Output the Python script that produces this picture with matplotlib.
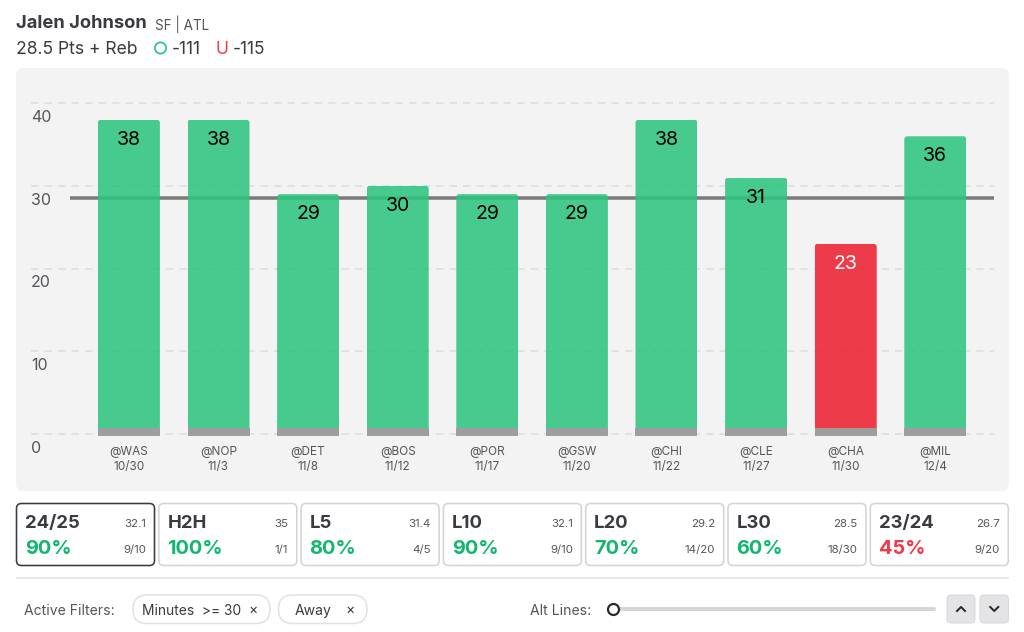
"""Player prop card: last ten games against the line, plus the split cards and filters."""

import matplotlib

matplotlib.use("Agg")
import matplotlib.pyplot as plt
from matplotlib.patches import Circle, FancyBboxPatch
from matplotlib.transforms import ScaledTranslation

plt.rcParams.update({"font.family": ["Inter", "Liberation Sans", "DejaVu Sans"]})

PLAYER = "Jalen Johnson"
TEAMS = "SF | ATL"
PROP = "28.5 Pts + Reb"
OVER_ODDS = "-111"
UNDER_ODDS = "-115"

OPPONENTS = ["@WAS", "@NOP", "@DET", "@BOS", "@POR", "@GSW", "@CHI", "@CLE", "@CHA", "@MIL"]
DATES = ["10/30", "11/3", "11/8", "11/12", "11/17", "11/20", "11/22", "11/27", "11/30", "12/4"]
VALUES = [38, 38, 29, 30, 29, 29, 38, 31, 23, 36]
LINE = 28.5
Y_TICKS = [0, 10, 20, 30, 40]

CARD_NAMES = ["24/25", "H2H", "L5", "L10", "L20", "L30", "23/24"]
CARD_AVGS = ["32.1", "35", "31.4", "32.1", "29.2", "28.5", "26.7"]
CARD_PCTS = [90, 100, 80, 90, 70, 60, 45]
CARD_COUNTS = ["9/10", "1/1", "4/5", "9/10", "14/20", "18/30", "9/20"]

GREEN = "#2EC57E"
RED = "#EE2031"
TEXT_GREEN = "#12B76F"
TEXT_RED = "#F03A47"
DARK = "#3A3A40"
MID = "#55555B"


def px(n):
    """Pixels to points at dpi 100."""
    return n * 0.72


def round_box(ui, x0, y0, x1, y1, r, **kw):
    ui.add_patch(FancyBboxPatch((x0 + r, y0 + r), x1 - x0 - 2 * r, y1 - y0 - 2 * r,
                                boxstyle=f"round,pad={r},rounding_size={r}", **kw))


def draw_header(ui):
    ui.text(16, 24, PLAYER, fontsize=px(18.3), fontweight="bold", color=DARK, va="center")
    ui.text(155, 24.5, TEAMS, fontsize=px(13.5), color=MID, va="center")
    ui.text(16, 49.5, PROP, fontsize=px(17.5), color=DARK, va="center")
    ui.add_patch(Circle((160.5, 48), 5.6, fc="none", ec="#2CC98A", lw=px(1.8)))
    ui.text(172, 49.5, OVER_ODDS, fontsize=px(17.2), color=DARK, va="center")
    ui.text(222, 49.5, "U", fontsize=px(17.5), color=TEXT_RED, va="center", ha="center")
    ui.text(233, 49.5, UNDER_ODDS, fontsize=px(17.2), color=DARK, va="center")


def draw_cards(ui):
    for i, name in enumerate(CARD_NAMES):
        x0 = 16.5 + i * 142.3
        x1 = x0 + 138
        selected = i == 0
        round_box(ui, x0, 503.5, x1, 565.5, 5, fc="white",
                  ec=DARK if selected else "#D4D4D4", lw=px(1.6))
        pct_color = TEXT_GREEN if CARD_PCTS[i] >= 50 else TEXT_RED
        ui.text(x0 + 8.5, 523.5, name, fontsize=px(18.5), fontweight="bold", color=DARK, va="center")
        ui.text(x1 - 8.5, 524, CARD_AVGS[i], fontsize=px(11.5), color=MID, va="center", ha="right")
        ui.text(x0 + 8.5, 549, f"{CARD_PCTS[i]}%", fontsize=px(20), fontweight="bold",
                color=pct_color, va="center")
        ui.text(x1 - 8.5, 550, CARD_COUNTS[i], fontsize=px(11.5), color=MID, va="center", ha="right")


def draw_filters(ui):
    ui.plot([16, 1008.5], [578, 578], color="#E4E4E4", lw=px(1.5), solid_capstyle="butt")
    ui.text(24, 611, "Active Filters:", fontsize=px(14), color=MID, va="center")
    round_box(ui, 133, 595, 270, 623.5, 14, fc="white", ec="#E2E2E2", lw=px(1.6))
    ui.text(142, 611, "Minutes  >= 30", fontsize=px(13.8), color=DARK, va="center")
    ui.text(253, 609.5, "×", fontsize=px(14), color=DARK, va="center", ha="center")
    round_box(ui, 278.5, 595, 367, 623.5, 14, fc="white", ec="#E2E2E2", lw=px(1.6))
    ui.text(295, 611, "Away", fontsize=px(14), color=DARK, va="center")
    ui.text(350, 609.5, "×", fontsize=px(14), color=DARK, va="center", ha="center")

    ui.text(530, 611, "Alt Lines:", fontsize=px(14), color=MID, va="center")
    round_box(ui, 607, 607, 936, 611, 2, fc="#D6D6D6", ec="none")
    ui.add_patch(Circle((613.5, 609.5), 5.5, fc="white", ec="#2A2A2E", lw=px(2.2), zorder=3))
    for x0, x1, tip in [(947, 975, -1), (980, 1008.5, 1)]:
        round_box(ui, x0, 595, x1, 623, 4, fc="#E4E4E6", ec="#D8D8DA", lw=px(1))
        cx = (x0 + x1) / 2
        ui.plot([cx - 4, cx, cx + 4], [609 - 2 * tip, 609 + 2 * tip, 609 - 2 * tip],
                color="#2A2A2E", lw=px(2))


def draw_chart(fig):
    x_unit = 89.6
    y_unit = 8.27
    first_x = 128.9
    left, right = 31, 994
    top, bottom = 90, 445
    ax = fig.add_axes([left / 1024, 1 - bottom / 632, (right - left) / 1024, (bottom - top) / 632])
    ax.patch.set_visible(False)
    ax.set_xlim((left - first_x) / x_unit, (right - first_x) / x_unit)
    ax.set_ylim((434 - bottom) / y_unit, (434 - top) / y_unit)
    for spine in ax.spines.values():
        spine.set_visible(False)

    positions = list(range(len(VALUES)))
    for t in Y_TICKS:
        ax.axhline(t, color="#DCDCDC", lw=px(1.5), dashes=(5, 4), zorder=1)
    ax.plot([(70 - first_x) / x_unit, (right - first_x) / x_unit], [LINE, LINE], color="#7A7A7A",
            lw=px(3.5), solid_capstyle="butt", zorder=2)

    colors = [GREEN if v > LINE else RED for v in VALUES]
    bars = ax.bar(positions, VALUES, width=62 / x_unit, color=colors, alpha=0.876, zorder=3)
    r = 3 / x_unit
    for rect, value in zip(bars, VALUES):
        # round the corners by clipping the real bar
        clip = FancyBboxPatch((rect.get_x() + r, r * x_unit / y_unit), rect.get_width() - 2 * r,
                              value - 2 * r * x_unit / y_unit,
                              boxstyle=f"round,pad={r},rounding_size={r}",
                              mutation_aspect=x_unit / y_unit, transform=ax.transData)
        rect.set_clip_path(clip)
    ax.bar(positions, [0.88] * len(VALUES), bottom=-0.2, width=62 / x_unit, color="#9E9E9E", zorder=4)

    for x, value in zip(positions, VALUES):
        ax.annotate(str(value), (x, value), xytext=(0, px(-20)), textcoords="offset points",
                    ha="center", va="center", fontsize=px(19.5),
                    color="white" if value < LINE else "black", zorder=5)

    ax.set_xticks(positions, [f"{o}\n{d}" for o, d in zip(OPPONENTS, DATES)])
    ax.set_yticks(Y_TICKS, [str(t) for t in Y_TICKS])
    ax.tick_params(axis="x", length=0, pad=px(1), labelsize=px(11.8), labelcolor=MID)
    ax.tick_params(axis="y", length=0, pad=0, labelsize=px(16), labelcolor=MID)
    for label in ax.get_xticklabels():
        label.set_linespacing(1.35)
    shift = ScaledTranslation(0, -0.128, fig.dpi_scale_trans)
    for label in ax.get_yticklabels():
        label.set_ha("left")
        label.set_transform(label.get_transform() + shift)
    return ax


def main():
    fig = plt.figure(figsize=(10.24, 6.32), dpi=100, facecolor="white")
    ui = fig.add_axes([0, 0, 1, 1])
    ui.set_xlim(0, 1024)
    ui.set_ylim(632, 0)
    ui.axis("off")

    round_box(ui, 16, 68, 1009, 491, 8, fc="#F3F3F3", ec="none")
    draw_header(ui)
    draw_cards(ui)
    draw_filters(ui)
    draw_chart(fig)
    fig.savefig("out.png", dpi=100)


if __name__ == "__main__":
    main()
